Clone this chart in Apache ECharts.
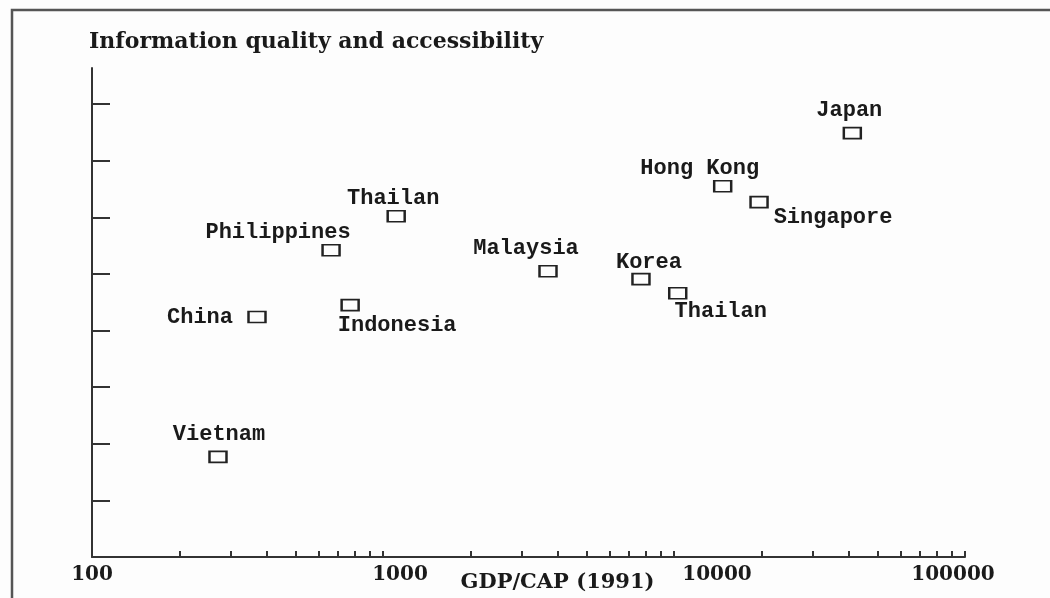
<!DOCTYPE html>
<html>
<head>
<meta charset="utf-8">
<script src="https://cdn.jsdelivr.net/npm/echarts@6/dist/echarts.min.js"></script>
<style>html,body{margin:0;padding:0;background:#fdfdfd}#c{width:1050px;height:598px}</style>
</head>
<body>
<div id="c"></div>
<script>
// ---- data ----
const countries = ['Japan','Hong Kong','Singapore','Thailan','Philippines','Malaysia','Korea','Thailan','Indonesia','China','Vietnam'];
const gdpPerCap = [41000, 14700, 19600, 1110, 663, 3690, 7700, 10300, 771, 369, 271];
const infoQuality = [7.49, 6.55, 6.27, 6.02, 5.42, 5.05, 4.91, 4.66, 4.45, 4.24, 1.77];
const xTickLabels = [100, 1000, 10000, 100000];
const xMinorTicks = [200,300,400,500,600,700,800,900,1000,2000,3000,4000,5000,6000,7000,8000,9000,10000,20000,30000,40000,50000,60000,70000,80000,90000,100000];
const yTicks = [1,2,3,4,5,6,7,8];

// label placement (style only): offset of each label from its marker
const labelOffsets = [[-3,-23],[-23,-18],[74,15],[-3,-18],[-53,-18],[-22,-23],[8,-17],[43,18],[47,20],[-57,0],[1,-22]];

const labelFont = 'Liberation Mono';
const serif = 'DejaVu Serif';

const chart = echarts.init(document.getElementById('c'), null, {renderer:'canvas'});
const pts = countries.map((n,i)=>({
  name:n,
  value:[gdpPerCap[i], infoQuality[i]],
  label:{offset:labelOffsets[i]}
}));
const shift = {1000:'r17', 10000:'r43', 100000:'l12'};
chart.setOption({
  backgroundColor:'#fdfdfd',
  animation:false,
  title:{
    text:'Information quality and accessibility',
    left:84, top:26,
    textStyle:{fontFamily:serif, fontSize:22, fontWeight:'bold', color:'#1a1a1a'}
  },
  graphic:[{
    type:'rect', shape:{x:12, y:10, width:1200, height:800},
    style:{fill:null, stroke:'#555', lineWidth:2.5}, silent:true, z:100
  }],
  grid:{left:92, right:85, top:68, bottom:41, outerBoundsMode:'none', containLabel:false},
  xAxis:{
    type:'log', logBase:10, min:100, max:100000,
    name:'GDP/CAP (1991)', nameLocation:'middle', nameGap:15, nameMoveOverlap:false,
    nameTextStyle:{fontFamily:serif, fontSize:21, fontWeight:'bold', color:'#1a1a1a', padding:[0,0,0,58], verticalAlign:'top'},
    axisLine:{lineStyle:{color:'#333', width:2}},
    axisTick:{inside:true, length:6, lineStyle:{color:'#333', width:2}, customValues:xMinorTicks},
    splitLine:{show:false},
    axisLabel:{
      margin:8, fontFamily:serif, fontSize:20, fontWeight:'bold', color:'#1a1a1a',
      formatter:function(v){ const r=Math.round(v); return shift[r] ? '{'+shift[r]+'|'+r+'}' : '{n|'+r+'}'; },
      rich:{
        n:{fontFamily:serif, fontSize:20, fontWeight:'bold', color:'#1a1a1a'},
        r17:{fontFamily:serif, fontSize:20, fontWeight:'bold', color:'#1a1a1a', padding:[0,0,0,34]},
        r43:{fontFamily:serif, fontSize:20, fontWeight:'bold', color:'#1a1a1a', padding:[0,0,0,86]},
        l12:{fontFamily:serif, fontSize:20, fontWeight:'bold', color:'#1a1a1a', padding:[0,24,0,0]}
      }
    }
  },
  yAxis:{
    type:'value', min:0, max:8.64,
    axisLine:{show:true, lineStyle:{color:'#333', width:2}},
    axisTick:{show:true, inside:true, length:18, lineStyle:{color:'#333', width:2}, customValues:yTicks},
    axisLabel:{show:false},
    splitLine:{show:false}
  },
  series:[{
    type:'scatter',
    data:pts,
    symbol:'rect', symbolSize:[17,11],
    itemStyle:{color:'#fdfdfd', borderColor:'#222', borderWidth:2, opacity:1},
    label:{
      show:true, position:'inside', formatter:'{b}',
      fontFamily:labelFont, fontSize:22, fontWeight:'bold', color:'#1a1a1a'
    },
    emphasis:{disabled:true}
  }]
});
</script>
</body>
</html>
